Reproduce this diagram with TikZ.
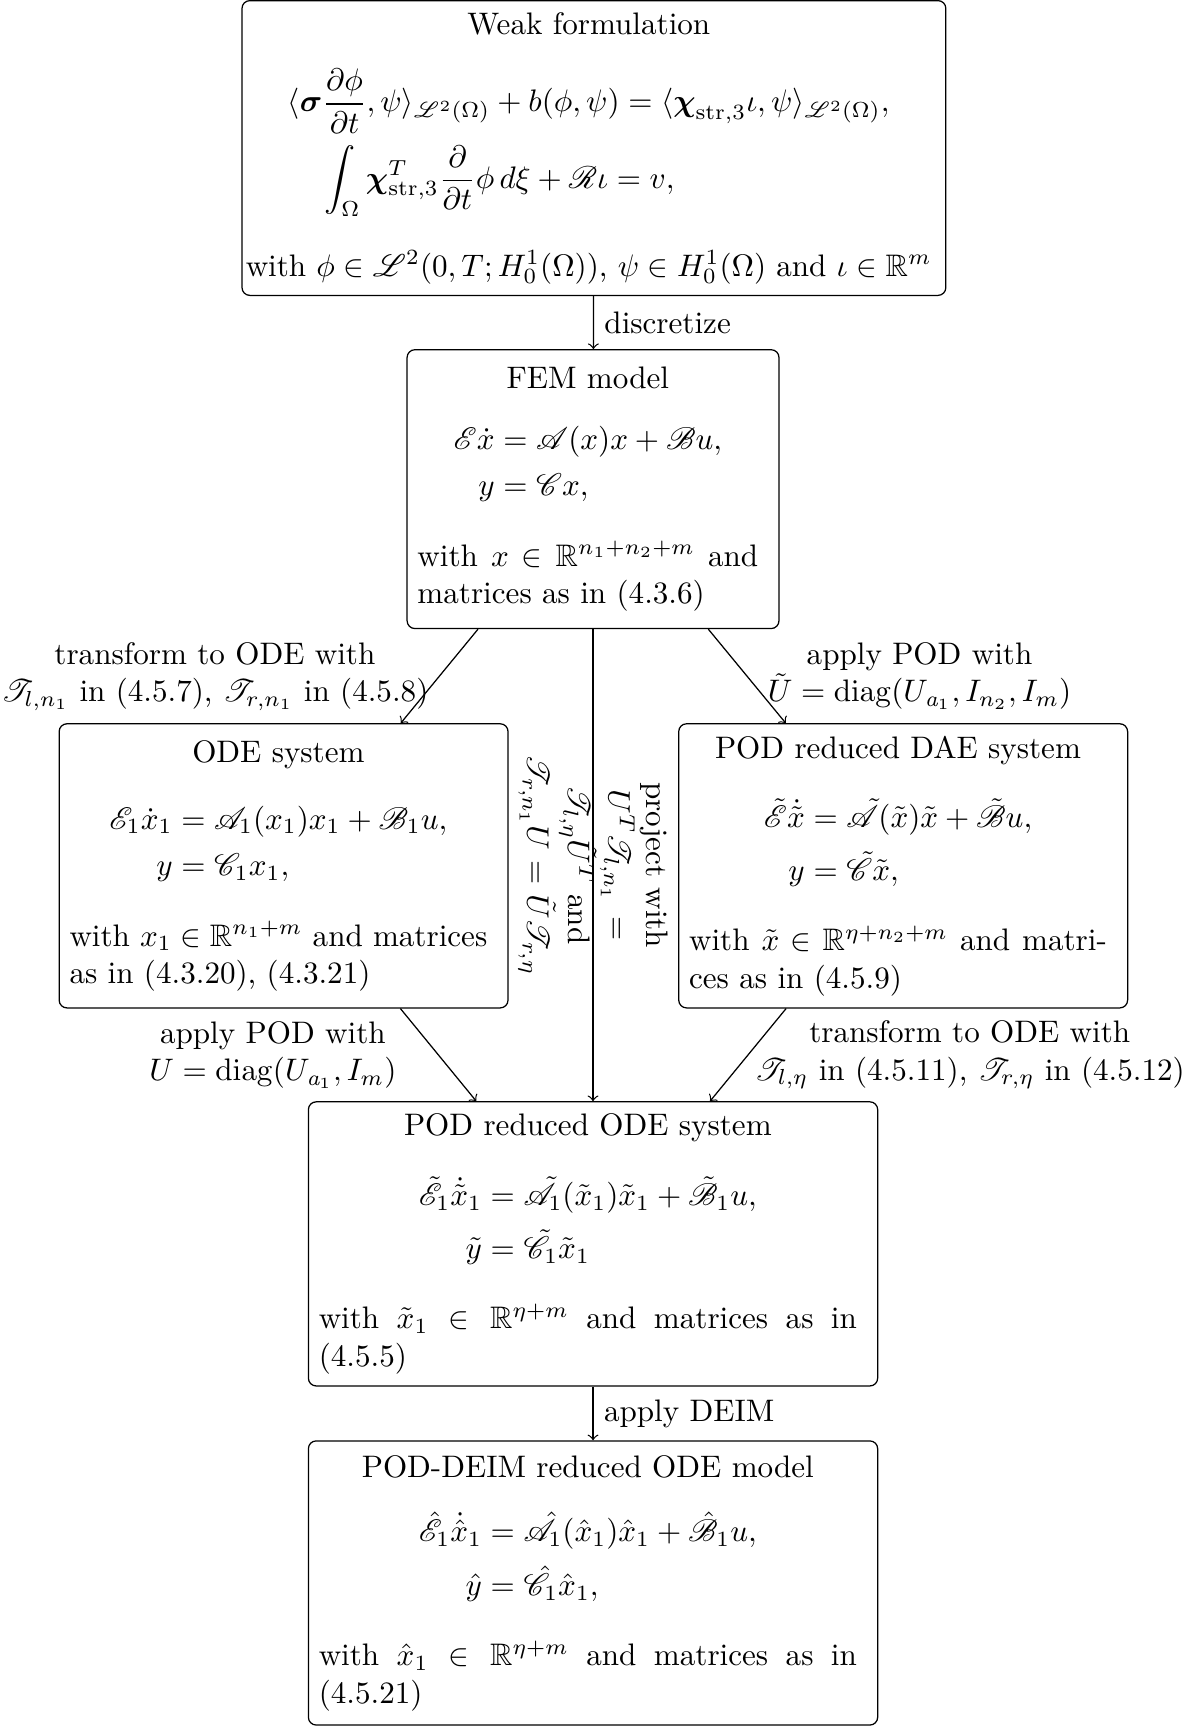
\documentclass[tikz,border=0pt]{standalone}
\usepackage{amsmath}
\usepackage{amssymb}
\IfFileExists{mathrsfs.sty}{\usepackage{mathrsfs}\let\mathcal\mathscr}{}

\begin{document}
\begin{tikzpicture}[model/.style={draw, rounded corners=2.5pt, anchor=north, execute at begin node={\begin{minipage}{#1}}, execute at end node={\end{minipage}\ }}]
	\useasboundingbox (0, 0) rectangle (13.43, -19.5);
	\node[model=7.75cm, inner xsep=1.2pt, minimum height=3.33cm](weak) at (6.71, 0){\hfill Weak formulation\hfill\null
		\[\begin{aligned}
			&\langle\boldsymbol{\sigma}\frac{\partial\phi}{\partial t},\psi\rangle_{\mathcal{L}^2(\Omega)}+b(\phi,\psi)=\langle\boldsymbol{\chi}_{\mathrm{str},3}\iota,\psi\rangle_{\mathcal{L}^2(\Omega)},\\
			&\quad\int_\Omega\boldsymbol{\chi}_{\mathrm{str},3}^T\frac{\partial}{\partial t}\phi\,d\xi+\mathcal{R}\iota=v,
		\end{aligned}\]
		with $\phi\in\mathcal{L}^2(0,T;H_0^1(\Omega))$, $\psi\in H_0^1(\Omega)$ and $\iota\in\mathbb{R}^m$};
	\node[model=3.85cm, minimum height=3.15cm](fem) at (6.70, -3.944){\hfill FEM model\hfill\null
		\[\begin{aligned}\mathcal{E}\dot{x}&=\mathcal{A}(x)x+\mathcal{B}u,\\ y&=\mathcal{C}x,\end{aligned}\]
		with $x\in\mathbb{R}^{n_1+n_2+m}$ and matrices as in (4.3.6)};
	\node[model=4.72cm, minimum height=3.21cm](ode) at (3.204, -8.17){\hfill ODE system\hfill\null
		\[\begin{aligned}\mathcal{E}_1\dot{x}_1&=\mathcal{A}_1(x_1)x_1+\mathcal{B}_1u,\\ y&=\mathcal{C}_1x_1,\end{aligned}\]
		with $x_1\in\mathbb{R}^{n_1+m}$ and matrices as in (4.3.20), (4.3.21)};
	\node[model=4.72cm, minimum height=3.21cm](dae) at (10.204, -8.17){\hfill POD reduced DAE system\hfill\null
		\[\begin{aligned}\tilde{\mathcal{E}}\dot{\tilde{x}}&=\tilde{\mathcal{A}}(\tilde{x})\tilde{x}+\tilde{\mathcal{B}}u,\\ y&=\tilde{\mathcal{C}}\tilde{x},\end{aligned}\]
		with $\tilde{x}\in\mathbb{R}^{\eta+n_2+m}$ and matrices as in (4.5.9)};
	\node[model=6.08cm, minimum height=3.21cm](podode) at (6.70, -12.441){\hfill POD reduced ODE system\hfill\null
		\[\begin{aligned}\tilde{\mathcal{E}}_1\dot{\tilde{x}}_1&=\tilde{\mathcal{A}}_1(\tilde{x}_1)\tilde{x}_1+\tilde{\mathcal{B}}_1u,\\ \tilde{y}&=\tilde{\mathcal{C}}_1\tilde{x}_1\end{aligned}\]
		with $\tilde{x}_1\in\mathbb{R}^{\eta+m}$ and matrices as in (4.5.5)};
	\node[model=6.08cm, minimum height=3.21cm](deim) at (6.70, -16.272){\hfill POD-DEIM reduced ODE model\hfill\null
		\[\begin{aligned}\hat{\mathcal{E}}_1\dot{\hat{x}}_1&=\hat{\mathcal{A}}_1(\hat{x}_1)\hat{x}_1+\hat{\mathcal{B}}_1u,\\ \hat{y}&=\hat{\mathcal{C}}_1\hat{x}_1,\end{aligned}\]
		with $\hat{x}_1\in\mathbb{R}^{\eta+m}$ and matrices as in (4.5.21)};
	\draw[->] (weak) -- node[right]{discretize} (fem);
	\draw[->] (fem) -- node[left, align=center]{transform to ODE with\\ $\mathcal{T}_{l,n_1}$ in (4.5.7), $\mathcal{T}_{r,n_1}$ in (4.5.8)} (ode);
	\draw[->] (fem) -- node[right, align=center, xshift=0.11cm]{apply POD with\\ $\tilde{U}=\operatorname{diag}(U_{\mathit{a}_1},I_{n_2},I_m)$} (dae);
	\draw[->] (fem) -- node[rotate=-90, text width=2.7cm, align=center]{project with $U^T\mathcal{T}_{l,n_1}=\mathcal{T}_{l,\eta}\tilde{U}^T$ and $\mathcal{T}_{r,n_1}U=\tilde{U}\mathcal{T}_{r,\eta}$} (podode);
	\draw[->] (ode) -- node[left, align=center, xshift=-0.35cm]{apply POD with\\ $U=\operatorname{diag}(U_{\mathit{a}_1},I_m)$} (podode);
	\draw[->] (dae) -- node[right, align=center, xshift=-0.05cm]{transform to ODE with\\ $\mathcal{T}_{l,\eta}$ in (4.5.11), $\mathcal{T}_{r,\eta}$ in (4.5.12)} (podode);
	\draw[->] (podode) -- node[right]{apply DEIM} (deim);
\end{tikzpicture}
\end{document}
